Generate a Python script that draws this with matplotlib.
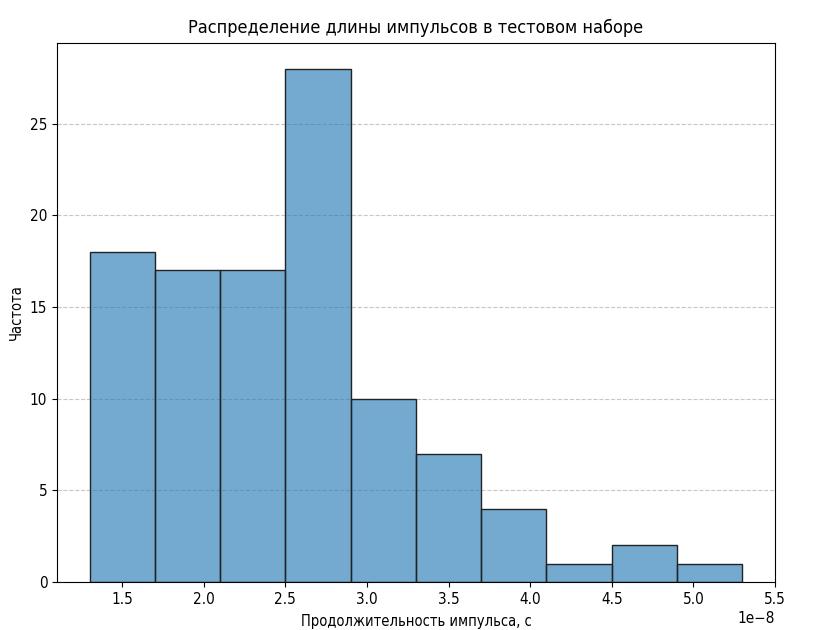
import numpy as np
import matplotlib.pyplot as plt
from matplotlib.colors import to_rgba

plt.rcParams['font.family'] = ['DejaVu Sans']
plt.rcParams['font.stretch'] = 'condensed'

# histogram bins (seconds) and counts
bin_edges = [1.3e-8, 1.7e-8, 2.1e-8, 2.5e-8, 2.9e-8, 3.3e-8, 3.7e-8, 4.1e-8, 4.5e-8, 4.9e-8, 5.3e-8]
counts = [18, 17, 17, 28, 10, 7, 4, 1, 2, 1]

fig, ax = plt.subplots(figsize=(8.14, 6.3), dpi=100)
ax.hist(bin_edges[:-1], bins=bin_edges, weights=counts,
        facecolor=to_rgba('#1f77b4', 0.62), edgecolor='#222222', linewidth=1.0)

ax.set_title('Распределение длины импульсов в тестовом наборе', fontsize=13, pad=7)
ax.set_xlabel('Продолжительность импульса, с', fontsize=10.5, labelpad=5)
ax.set_ylabel('Частота', fontsize=10.5, labelpad=4)
ax.tick_params(labelsize=11)
ax.xaxis.get_offset_text().set_fontsize(11)
ax.set_yticks([0, 5, 10, 15, 20, 25])

ax.set_axisbelow(True)
ax.grid(axis='y', linestyle='--', alpha=0.7)

plt.subplots_adjust(left=0.07, right=0.952, top=0.932, bottom=0.076)
plt.savefig('out.png')
